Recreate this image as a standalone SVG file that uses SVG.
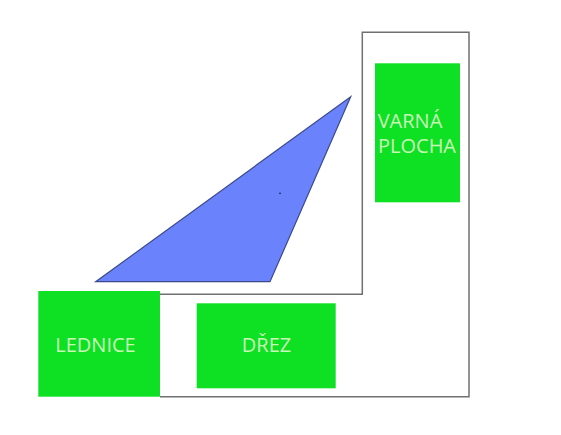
<svg xmlns="http://www.w3.org/2000/svg" width="561" height="435" viewBox="0 0 561 435">
<style>
.box{fill:#0ee024;}
.lbl{font-family:"Open Sans",sans-serif;font-size:20px;fill:#c8f7b8;}
</style>
<rect width="561" height="435" fill="#fff"/>
<g id="outline"><path d="M160 294.3H362.3V32.3H469V396.7H160" fill="none" stroke="#707070" stroke-width="1.5"/></g>
<g id="triangle"><polygon points="95.7,281.7 270,281.7 350.7,96.7" fill="#6a82fb" stroke="#3c4a8c" stroke-width="1.2"/><circle cx="280" cy="193.3" r="0.7" fill="#000"/></g>
<g id="varna"><rect class="box" x="375" y="63.3" width="85" height="139"/><text class="lbl" x="377.7" y="128.3">VARNÁ</text><text class="lbl" x="378" y="152.7">PLOCHA</text></g>
<g id="lednice"><rect class="box" x="38.3" y="291" width="121.7" height="105.7"/><text class="lbl" x="95.5" y="351.7" text-anchor="middle">LEDNICE</text></g>
<g id="drez"><rect class="box" x="196.7" y="303.3" width="139" height="85"/><text class="lbl" x="266.5" y="351.7" text-anchor="middle">DŘEZ</text></g>
<g id="connectors"/>
</svg>
